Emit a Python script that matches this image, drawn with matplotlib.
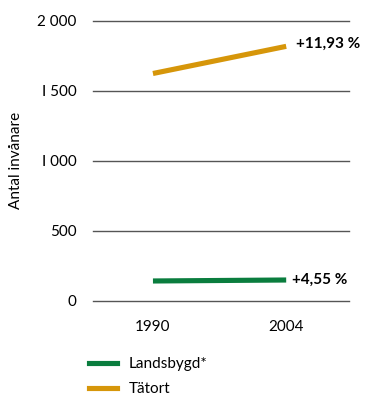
import matplotlib
matplotlib.use("Agg")
import matplotlib.pyplot as plt
from matplotlib.lines import Line2D

years = [1990, 2004]
landsbygd = [143, 150]
tatort = [1625, 1819]
yticks = [0, 500, 1000, 1500, 2000]
ytick_labels = ["0", "500", "I 000", "I 500", "2 000"]
change_labels = ["+4,55 %", "+11,93 %"]
series_names = ["Landsbygd*", "Tätort"]

green = "#0A7D3E"
orange = "#D6960A"

plt.rcParams['font.family'] = ['Lato', 'DejaVu Sans']

fig = plt.figure(figsize=(3.72, 3.96), dpi=100)
ax = fig.add_axes([93/372, 1-301/396, (349-93)/372, (301-21)/396])
ax.set_xlim(1983.7, 2010.6)
ax.set_ylim(0, 2000)

for y in yticks:
    ax.axhline(y, color="#555555", lw=1.0, zorder=1, clip_on=False)

ax.plot(years, landsbygd, color=green, lw=3.7, solid_capstyle="butt", zorder=3)
ax.plot(years, tatort, color=orange, lw=3.7, solid_capstyle="butt", zorder=3)

ax.text(years[1] + 0.6, landsbygd[1], change_labels[0], fontsize=11, fontweight="bold",
        va="center", ha="left")
ax.text(years[1] + 1.0, tatort[1] + 15, change_labels[1], fontsize=11, fontweight="bold",
        va="center", ha="left")

ax.set_yticks(yticks)
ax.set_yticklabels(ytick_labels, fontsize=11)
ax.set_xticks(years)
ax.set_xticklabels([str(y) for y in years], fontsize=11)
ax.tick_params(axis="both", length=0, pad=12)
ax.tick_params(axis="x", pad=14)
for s in ax.spines.values():
    s.set_visible(False)

fig.text(16/372, 1-160/396, "Antal invånare", rotation=90, fontsize=11, ha="center", va="center")

handles = [Line2D([0], [0], color=green, lw=3.7), Line2D([0], [0], color=orange, lw=3.7)]
fig.legend(handles, series_names, loc="upper left", bbox_to_anchor=(89/372, 1-357/396),
           frameon=False, fontsize=11, handlelength=1.8, handletextpad=0.8, labelspacing=0.75,
           borderaxespad=0, borderpad=0)

fig.savefig("out.png", dpi=100)
